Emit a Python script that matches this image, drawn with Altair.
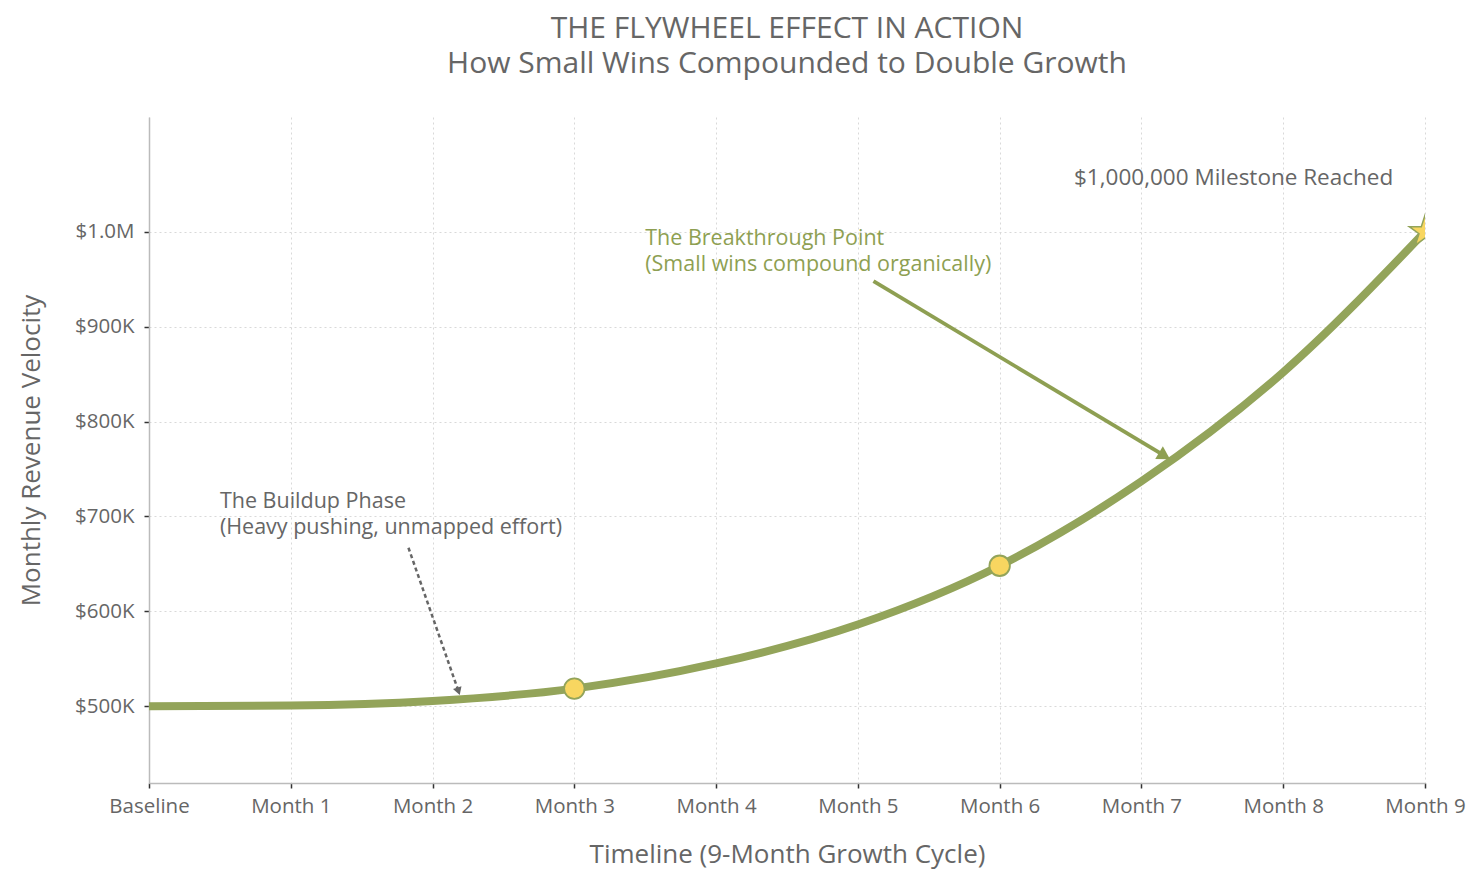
import altair as alt
import pandas as pd

# ---------------- data ----------------
MONTHS = [0, 1, 2, 3, 4, 5, 6, 7, 8, 9]
MONTH_LABELS = ["Baseline", "Month 1", "Month 2", "Month 3", "Month 4",
                "Month 5", "Month 6", "Month 7", "Month 8", "Month 9"]
REVENUE = [500000, 500700, 505500, 518500, 545000, 586000, 648000, 737000, 852000, 1000000]

MILESTONE_MONTHS = [3, 6]
MILESTONE_VALUES = [518500, 648000]
STAR_MONTH = [9]
STAR_VALUE = [1000000]

Y_TICKS = [500000, 600000, 700000, 800000, 900000, 1000000]
Y_TICK_LABELS = ["$500K", "$600K", "$700K", "$800K", "$900K", "$1.0M"]
Y_DOMAIN = [419000, 1121000]

ANN_TEXT = ["The Buildup Phase\n(Heavy pushing, unmapped effort)",
            "The Breakthrough Point\n(Small wins compound organically)",
            "$1,000,000 Milestone Reached"]
ANN_X = [0.5, 3.5, 7.65]
ANN_Y = [726500, 1004500, 1057000]

ARROW_X = [1.83, 5.11]
ARROW_Y = [667000, 948000]
ARROW_X2 = [2.18, 7.15]
ARROW_Y2 = [517000, 765000]
ARROW_ANGLE = [161, 121]

OLIVE = "#93A45A"
OLIVE_TEXT = "#8E9F52"
YELLOW = "#F8D660"
GRAY = "#666666"
FONT = "Open Sans"
STAR_PATH = ("M0,-1 L0.2245,-0.309 L0.951,-0.309 L0.363,0.118 L0.588,0.809 "
             "L0,0.382 L-0.588,0.809 L-0.363,0.118 L-0.951,-0.309 L-0.2245,-0.309 Z")

# ---------------- frames ----------------
curve = pd.DataFrame({"month": MONTHS, "revenue": REVENUE})
dots = pd.DataFrame({"month": MILESTONE_MONTHS, "revenue": MILESTONE_VALUES})
star = pd.DataFrame({"month": STAR_MONTH, "revenue": STAR_VALUE})

x_label_expr = "[" + ",".join("'" + s + "'" for s in MONTH_LABELS) + "][datum.value]"
y_label_expr = ("[" + ",".join("'" + s + "'" for s in Y_TICK_LABELS) + "][indexof(["
                + ",".join(str(v) for v in Y_TICKS) + "], datum.value)]")

x_enc = alt.X("month:Q",
              scale=alt.Scale(domain=[0, 9], nice=False, zero=False),
              axis=alt.Axis(values=MONTHS, labelExpr=x_label_expr, labelFlush=False,
                            title="Timeline (9-Month Growth Cycle)"))
y_enc = alt.Y("revenue:Q",
              scale=alt.Scale(domain=Y_DOMAIN, nice=False, zero=False),
              axis=alt.Axis(values=Y_TICKS, labelExpr=y_label_expr, labelFlush=False,
                            title="Monthly Revenue Velocity"))

line = alt.Chart(curve).mark_line(
    color=OLIVE, strokeWidth=8, interpolate="monotone", clip=True, strokeCap="butt"
).encode(x=x_enc, y=y_enc)

points = alt.Chart(dots).mark_point(
    shape="circle", filled=True, fill=YELLOW, stroke=OLIVE, strokeWidth=1.8,
    size=420, opacity=1
).encode(x="month:Q", y="revenue:Q")

star_mark = alt.Chart(star).mark_point(
    shape=STAR_PATH, filled=True, fill=YELLOW, stroke=OLIVE, strokeWidth=1.5,
    size=1100, opacity=1, clip=True
).encode(x="month:Q", y="revenue:Q")

arrows_df = pd.DataFrame({"x": ARROW_X, "y": ARROW_Y, "x2": ARROW_X2, "y2": ARROW_Y2,
                          "angle": ARROW_ANGLE})

arrow1 = alt.Chart(arrows_df.iloc[[0]]).mark_rule(
    color="#666666", strokeWidth=2.5, strokeDash=[4, 3]
).encode(x="x:Q", y="y:Q", x2="x2:Q", y2="y2:Q")
head1 = alt.Chart(arrows_df.iloc[[0]]).mark_point(
    shape="triangle", filled=True, color="#666666", size=80, opacity=1,
    angle=ARROW_ANGLE[0]
).encode(x="x2:Q", y="y2:Q")

arrow2 = alt.Chart(arrows_df.iloc[[1]]).mark_rule(
    color=OLIVE_TEXT, strokeWidth=3.8
).encode(x="x:Q", y="y:Q", x2="x2:Q", y2="y2:Q")
head2 = alt.Chart(arrows_df.iloc[[1]]).mark_point(
    shape="triangle", filled=True, color=OLIVE_TEXT, size=220, opacity=1,
    angle=ARROW_ANGLE[1]
).encode(x="x2:Q", y="y2:Q")

ann = pd.DataFrame({"text": ANN_TEXT, "x": ANN_X, "y": ANN_Y})

t1 = alt.Chart(ann.iloc[[0]]).mark_text(
    align="left", baseline="top", fontSize=21.5, font=FONT, color=GRAY,
    lineBreak="\n", lineHeight=26
).encode(x="x:Q", y="y:Q", text="text:N")
t2 = alt.Chart(ann.iloc[[1]]).mark_text(
    align="left", baseline="top", fontSize=21.5, font=FONT, color=OLIVE_TEXT,
    lineBreak="\n", lineHeight=26
).encode(x="x:Q", y="y:Q", text="text:N")
t3 = alt.Chart(ann.iloc[[2]]).mark_text(
    align="center", baseline="middle", fontSize=22.5, font=FONT, color=GRAY
).encode(x="x:Q", y="y:Q", text="text:N")

chart = alt.layer(
    line, arrow1, head1, arrow2, head2, points, star_mark, t1, t2, t3
).properties(
    width=1276, height=666,
    title=alt.TitleParams(
        text=["THE FLYWHEEL EFFECT IN ACTION", "How Small Wins Compounded to Double Growth"],
        fontSize=30, font=FONT, fontWeight="normal", color="#666666",
        lineHeight=35, anchor="middle", offset=38
    ),
    padding={"left": 10, "top": 6, "right": 5, "bottom": 5}
).configure_view(
    stroke=None
).configure_axis(
    labelFont=FONT, titleFont=FONT, labelFontSize=20.5, titleFontSize=26,
    labelColor=GRAY, titleColor=GRAY, titleFontWeight="normal",
    domainColor="#bbbbbb", domainWidth=1.5, tickColor="#333333", tickSize=5,
    tickWidth=1.5,
    gridColor="#d9d9d9", gridDash=[2, 3], gridWidth=1
).configure_axisX(
    labelPadding=8, titlePadding=25
).configure_axisY(
    labelPadding=10, titlePadding=30
)

chart.save("out.html", embed_options={"renderer": "svg", "actions": False})
